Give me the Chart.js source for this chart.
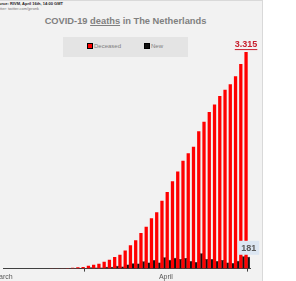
<!DOCTYPE html>
<html>
<head>
<meta charset="utf-8">
<script src="https://cdn.jsdelivr.net/npm/chart.js@4.4.1/dist/chart.umd.min.js"></script>
<style>
  body { margin: 0; background: #fff; width: 296px; height: 281px; overflow: hidden; font-family: "Liberation Sans", Arial, sans-serif; }
  #panel { position: absolute; left: 0; top: 0; width: 262px; height: 280px; background: #f2f2f2; border-top: 1px solid #d9d9d9; border-right: 1px solid #d9d9d9; }
  #barChart { position: absolute; left: 0; top: 0; }
  .src { position: absolute; left: -6px; white-space: nowrap; font-size: 4px; line-height: 4px; }
  #src1 { top: 2px; font-weight: bold; color: #222; }
  #src2 { top: 7px; color: #777; }
  #title { position: absolute; left: 0; width: 251px; top: 16px; text-align: center; font-size: 9.3px; font-weight: bold; color: #808080; white-space: nowrap; }
  #title u { text-decoration-thickness: 1px; }
  #legend { position: absolute; left: 63px; top: 37px; width: 125px; height: 20px; background: #e4e4e4; font-size: 6px; color: #7f7f7f; }
  .item { position: absolute; top: 6px; white-space: nowrap; }
  .sw { display: inline-block; width: 4px; height: 4px; margin-right: 1px; vertical-align: -1px; }
</style>
</head>
<body>
<div id="panel"></div>
<div class="src" id="src1">Source: RIVM, April 16th, 14:00 GMT</div>
<div class="src" id="src2">Twitter: twitter.com/jpronk</div>
<div id="title">COVID-19 <u>deaths</u> in The Netherlands</div>
<div id="legend"></div>
<canvas id="barChart" width="262" height="281"></canvas>
<script>
// Mar 1 .. Apr 16
const days = [];
for (let d = 1; d <= 31; d++) days.push(d + " Mar");
for (let d = 1; d <= 16; d++) days.push(d + " Apr");

const deceased = [0, 0, 0, 0, 0, 1, 1, 3, 3, 4, 5, 5, 10, 12, 20, 24, 43, 58, 76, 106, 136, 179, 213, 276, 356, 434, 546, 639, 771, 864, 1039,
  1173, 1339, 1487, 1651, 1766, 1867, 2101, 2248, 2396, 2511, 2643, 2737, 2823, 2945, 3134, 3315];
const newDeaths = [0, 0, 0, 0, 0, 1, 0, 2, 0, 1, 1, 0, 5, 2, 8, 4, 19, 15, 18, 30, 30, 43, 34, 63, 80, 78, 112, 93, 132, 93, 175,
  134, 166, 148, 164, 115, 101, 234, 147, 148, 115, 132, 94, 86, 122, 189, 181];
const tickDays = [0, 31];
const tickLabels = ["March", "April"];

const seriesLabels = ["Deceased", "New"];
const seriesColors = ["#ff0000", "#111111"];

// legend
const legend = document.getElementById("legend");
const legendX = [24, 81];
seriesLabels.forEach((lbl, i) => {
  const el = document.createElement("div");
  el.className = "item";
  el.style.left = legendX[i] + "px";
  el.innerHTML = '<span class="sw" style="background:' + seriesColors[i] + ';border:0.5px solid #000"></span>' + lbl;
  legend.appendChild(el);
});

const fmt = v => String(v).replace(/\B(?=(\d{3})+(?!\d))/g, ".");

// labels on the last bars
const lastLabels = {
  id: "lastLabels",
  afterDatasetsDraw(chart) {
    const ctx = chart.ctx;
    const red = chart.getDatasetMeta(0).data;
    const blk = chart.getDatasetMeta(1).data;
    const r = red[red.length - 1];
    const b = blk[blk.length - 1];
    ctx.save();
    ctx.font = "bold 9px 'Liberation Sans', sans-serif";
    ctx.textAlign = "center";
    ctx.textBaseline = "bottom";
    ctx.fillStyle = "#c8202e";
    const t1 = fmt(deceased[deceased.length - 1]);
    const w1 = ctx.measureText(t1).width;
    ctx.fillText(t1, r.x, r.y - 3);
    ctx.fillRect(r.x - w1 / 2, r.y - 3, w1, 1);
    const t2 = fmt(newDeaths[newDeaths.length - 1]);
    const w2 = ctx.measureText(t2).width;
    ctx.fillStyle = "#dce6f2";
    ctx.fillRect(b.x - w2 / 2 - 3, b.y - 16, w2 + 6, 14);
    ctx.fillStyle = "#595959";
    ctx.fillText(t2, b.x, b.y - 4);
    ctx.restore();
  }
};

const ctx = document.getElementById("barChart").getContext("2d");
new Chart(ctx, {
  type: "bar",
  data: {
    labels: days,
    datasets: [
      {
        label: seriesLabels[0],
        data: deceased.map((v, i) => ({ x: i + 0.5, y: v })),
        backgroundColor: seriesColors[0],
        borderWidth: 0,
      },
      {
        label: seriesLabels[1],
        data: newDeaths.map((v, i) => ({ x: i + 0.5, y: v })),
        backgroundColor: seriesColors[1],
        borderColor: "#000",
        borderWidth: 0.5,
      },
    ],
  },
  options: {
    responsive: false,
    animation: false,
    devicePixelRatio: 1,
    layout: { padding: { left: 3, right: 12, top: 40, bottom: -1 } },
    datasets: { bar: { categoryPercentage: 1, barPercentage: 1.25 } },
    plugins: {
      legend: { display: false },
      tooltip: { enabled: false },
    },
    scales: {
      x: {
        type: "linear",
        offset: false,
        min: 0,
        max: days.length,
        afterBuildTicks: (scale) => { scale.ticks = tickDays.map(v => ({ value: v })); },
        afterFit: (scale) => { scale.paddingLeft = 0; scale.paddingRight = 0; },
        ticks: {
          autoSkip: false,
          maxRotation: 0,
          padding: 1,
          color: "#595959",
          font: { size: 7, family: "'Liberation Sans', sans-serif" },
          callback: (v) => tickLabels[tickDays.indexOf(v)],
        },
        grid: { drawOnChartArea: false, tickLength: 3, color: "#404040" },
        border: { color: "#404040", width: 1 },
      },
      y: {
        display: false,
        min: 0,
        max: 3500,
      },
    },
  },
  plugins: [lastLabels],
});
</script>
</body>
</html>
